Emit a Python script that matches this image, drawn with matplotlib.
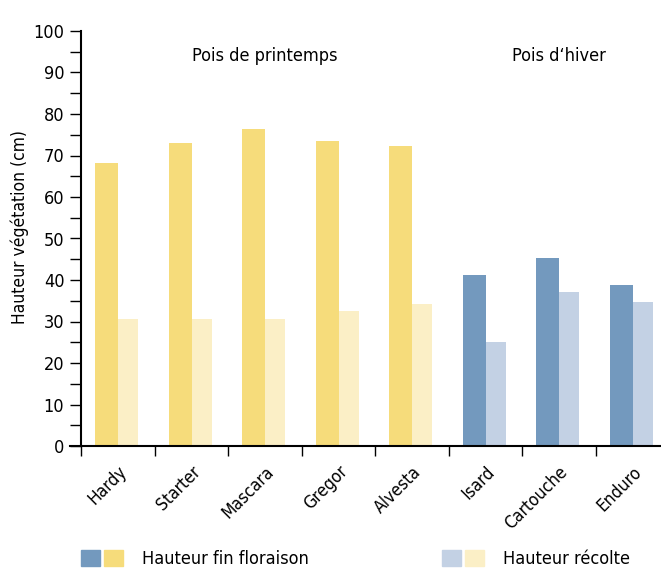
import matplotlib
matplotlib.use("Agg")
import matplotlib.pyplot as plt
from matplotlib.patches import Patch
from matplotlib.legend_handler import HandlerTuple

plt.rcParams['font.family'] = ['DejaVu Sans']
plt.rcParams['font.stretch'] = 'condensed'

varieties = ["Hardy", "Starter", "Mascara", "Gregor", "Alvesta", "Isard", "Cartouche", "Enduro"]
hauteur_floraison = [68.2, 73.0, 76.4, 73.5, 72.3, 41.2, 45.3, 38.7]
hauteur_recolte = [30.5, 30.5, 30.5, 32.5, 34.2, 25.0, 37.1, 34.6]
groups = ["printemps"] * 5 + ["hiver"] * 3
group_titles = {"printemps": "Pois de printemps", "hiver": "Pois d\u2018hiver"}

dark_colors = {"printemps": "#F6DC7B", "hiver": "#7399BE"}
light_colors = {"printemps": "#FBEFC6", "hiver": "#C3D1E4"}

fig = plt.figure(figsize=(6.61, 5.72), dpi=100)
ax = fig.add_axes([81 / 661, 126 / 572, 588 / 661, 415 / 572])

pos = list(range(len(varieties)))
ax.bar([p + 0.195 for p in pos], hauteur_floraison, width=0.31, align='edge',
       color=[dark_colors[g] for g in groups], linewidth=0)
ax.bar([p + 0.505 for p in pos], hauteur_recolte, width=0.275, align='edge',
       color=[light_colors[g] for g in groups], linewidth=0)

ax.set_xlim(0, len(varieties))
ax.set_ylim(0, 100)

for side in ("top", "right"):
    ax.spines[side].set_visible(False)
for side in ("left", "bottom"):
    ax.spines[side].set_linewidth(1.5)
ax.spines["bottom"].set_bounds(-11 / 73.5, len(varieties))

ax.set_yticks(range(0, 101, 10))
ax.set_yticks(range(5, 100, 10), minor=True)
ax.tick_params(axis='y', which='both', direction='out', length=8, width=1.0,
               labelsize=13, pad=4)
ax.set_xticks(range(len(varieties) + 1))
ax.set_xticklabels([])
ax.tick_params(axis='x', which='major', direction='out', length=7.5, width=1.0)

for p, name in zip(pos, varieties):
    ax.text(p + 0.5, -0.04, name, transform=ax.get_xaxis_transform(),
            rotation=45, ha='right', va='top', rotation_mode='anchor', fontsize=12.5)

ax.set_ylabel("Hauteur végétation (cm)", fontsize=12.5)
ax.yaxis.set_label_coords(-0.088, 0.528)

# group titles above each set of bars
for g in ("printemps", "hiver"):
    idx = [i for i, gg in enumerate(groups) if gg == g]
    center = (idx[0] + idx[-1] + 1) / 2
    ax.text(center, 0.94, group_titles[g], transform=ax.get_xaxis_transform(),
            ha='center', va='center', fontsize=13)

legend_kw = dict(handler_map={tuple: HandlerTuple(ndivide=None, pad=0.22)},
                 loc='lower left', frameon=False, fontsize=13, handlelength=2.33,
                 handleheight=1.0, handletextpad=1.05, borderpad=0, borderaxespad=0)
fig.legend(handles=[(Patch(color=dark_colors["hiver"]), Patch(color=dark_colors["printemps"]))],
           labels=["Hauteur fin floraison"], bbox_to_anchor=(81 / 661, 4 / 572), **legend_kw)
fig.legend(handles=[(Patch(color=light_colors["hiver"]), Patch(color=light_colors["printemps"]))],
           labels=["Hauteur récolte"], bbox_to_anchor=(442 / 661, 4 / 572), **legend_kw)

fig.savefig("out.png", dpi=100)
